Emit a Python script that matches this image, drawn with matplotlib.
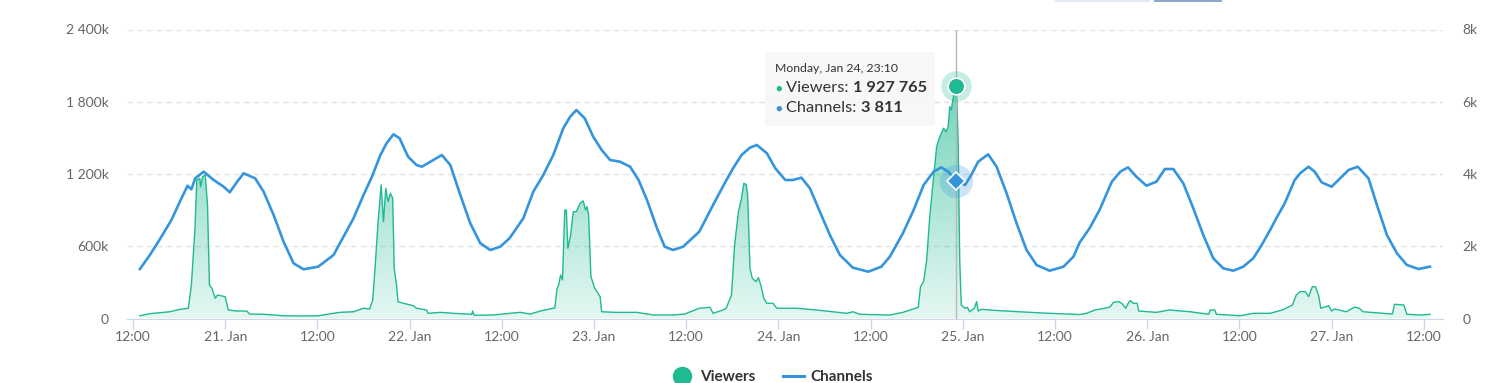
import numpy as np
import pandas as pd
import matplotlib
matplotlib.use('Agg')
import matplotlib.pyplot as plt
import matplotlib.dates as mdates
from matplotlib.lines import Line2D
from matplotlib.patches import Rectangle
from matplotlib.text import Annotation
from matplotlib.ticker import FuncFormatter

plt.rcParams['font.family'] = ['Lato', 'DejaVu Sans']

start = pd.Timestamp('2022-01-20 12:00')

# hours after Jan 20 12:00, channel count (right axis)
ch_hours = [0.9, 2.2, 3.7, 5.0, 6.1, 7.1, 7.6, 8.1, 9.2, 10.5, 11.8, 12.6, 13.5, 14.4, 15.9, 17.0,
            18.3, 19.6, 20.9, 22.2, 24.1, 26.1, 27.4, 28.7, 30.0, 31.1, 32.2, 33.0, 33.9, 34.7, 35.8,
            36.9, 37.6, 38.7, 40.2, 41.3, 42.6, 43.9, 45.2, 46.5, 47.8, 49.0, 50.8, 52.1, 53.4, 54.7,
            56.0, 56.9, 57.7, 58.8, 59.9, 61.0, 62.1, 63.4, 64.7, 65.8, 66.9, 68.2, 69.2, 70.3, 71.6,
            73.7, 75.5, 77.0, 78.1, 79.2, 80.3, 81.2, 82.5, 83.6, 84.9, 85.9, 87.0, 88.1, 89.4, 90.7,
            92.0, 93.7, 95.7, 97.4, 98.5, 100.2, 101.6, 102.9, 104.2, 105.2, 106.1, 107.17, 108.3,
            109.1, 110.0, 111.3, 112.4, 113.7, 115.0, 116.3, 117.6, 119.3, 121.1, 122.4, 123.2, 124.5,
            125.8, 127.4, 128.5, 129.5, 130.6, 131.9, 133.2, 134.3, 135.4, 136.7, 138.0, 139.3, 140.6,
            141.9, 143.2, 144.5, 145.8, 146.9, 148.0, 148.8, 149.9, 151.2, 151.9, 153.0, 153.8, 154.7,
            156.0, 157.1, 158.2, 159.4, 160.8, 161.9, 163.2, 164.5, 165.8, 167.3, 168.8]
ch_values = [1370, 1758, 2264, 2726, 3233, 3676, 3576, 3880, 4064, 3834, 3648, 3493, 3770, 4019, 3880, 3510,
             2865, 2126, 1528, 1362, 1434, 1758, 2264, 2773, 3418, 3925, 4525, 4849, 5098, 4988, 4479,
             4249, 4202, 4340, 4525, 4249, 3418, 2635, 2082, 1896, 1988, 2220, 2773, 3510, 3972, 4525,
             5265, 5586, 5771, 5541, 5032, 4664, 4387, 4340, 4202, 3834, 3280, 2497, 1988, 1896, 1988,
             2403, 3142, 3742, 4157, 4525, 4729, 4803, 4573, 4157, 3834, 3834, 3898, 3604, 2957, 2311,
             1758, 1406, 1296, 1434, 1711, 2358, 3003, 3695, 4064, 4185, 4064, 3811, 3695,
             3972, 4340, 4545, 4202, 3466, 2635, 1896, 1481, 1323, 1434, 1711, 2100, 2497,
             3003, 3787, 4064, 4185, 3925, 3676, 3787, 4138, 4138, 3742, 3050, 2311, 1666,
             1389, 1323, 1434, 1666, 2034, 2450, 2773, 3189, 3834, 4019, 4202, 4064, 3770,
             3648, 3880, 4110, 4202, 3880, 3142, 2311, 1805, 1481, 1370, 1434]

# hours after Jan 20 12:00, viewers (left axis)
vw_hours = [0.9, 2.2, 4.8, 6.1, 7.2, 7.6, 8.07, 8.3, 8.7, 8.8, 9.07, 9.4, 9.7, 9.95, 10.27, 10.7, 11.0,
            12.0, 12.4, 13.5, 14.8, 15.2, 17.0, 19.6, 22.2, 24.1, 26.9, 28.7, 30.0, 30.8, 31.2, 31.5,
            31.9, 32.3, 32.6, 32.9, 33.2, 33.5, 33.8, 34.0, 34.3, 34.5, 35.2, 36.5, 36.9, 38.2, 38.4,
            40.0, 41.7, 44.1, 44.2, 44.4, 46.9, 49.0, 50.4, 51.7, 53.0, 54.7, 54.9, 55.2, 55.4, 55.65,
            55.9, 56.2, 56.4, 56.6, 56.96, 57.3, 57.7, 58.2, 58.6, 58.9, 59.1, 59.3, 59.6, 60.1, 60.8,
            61.0, 62.9, 65.6, 67.7, 70.3, 71.8, 73.7, 75.1, 75.5, 76.8, 77.2, 77.9, 78.3, 78.8, 79.2,
            79.5, 79.8, 80.0, 80.3, 80.6, 81.1, 81.4, 81.7, 82.1, 82.5, 83.3, 83.8, 86.4, 88.9, 92.9,
            93.7, 94.6, 98.5, 100.2, 102.2, 102.5, 102.9, 103.3, 103.7, 104.2, 104.6, 105.0, 105.5,
            105.8, 106.1, 106.3, 106.5, 106.7, 107.0, 107.17, 107.4, 107.6, 107.8, 108.3, 108.6, 108.9,
            109.5, 109.8, 110.0, 110.4, 112.8, 115.9, 119.3, 123.2, 124.1, 125.2, 126.5, 127.2, 127.6,
            128.3, 128.7, 129.2, 129.6, 129.8, 130.2, 130.7, 130.9, 133.2, 134.9, 137.6, 140.0, 140.2,
            140.8, 141.0, 144.1, 145.8, 148.0, 149.6, 150.9, 151.4, 151.9, 152.6, 153.0, 153.5, 153.9,
            154.3, 154.6, 155.6, 156.0, 156.4, 157.9, 159.0, 159.6, 160.1, 163.9, 164.2, 165.4, 165.8,
            167.6, 168.8]
vw_values = [23000, 40000, 56000, 76000, 85000, 278000, 749000, 1150000, 1164000, 1094000, 1178000,
             1192000, 943000, 278000, 251000, 168000, 195000, 181000, 71000, 62000, 62000, 37000, 35000,
             23000, 21000, 23000, 51000, 56000, 85000, 79000, 154000, 417000, 804000, 1110000, 804000,
             1081000, 970000, 1040000, 998000, 417000, 278000, 140000, 126000, 106000, 85000, 71000,
             43000, 51000, 43000, 35000, 62000, 27000, 29000, 43000, 51000, 37000, 62000, 85000, 88000,
             251000, 278000, 361000, 320000, 901000, 901000, 583000, 693000, 887000, 887000, 957000,
             976000, 901000, 929000, 860000, 347000, 251000, 181000, 56000, 51000, 51000, 29000, 29000,
             37000, 85000, 93000, 43000, 71000, 85000, 195000, 610000, 887000, 998000, 1123000, 1113000,
             1026000, 417000, 334000, 306000, 339000, 279000, 168000, 126000, 126000, 85000, 85000,
             71000, 43000, 56000, 35000, 29000, 51000, 93000, 264000, 306000, 486000, 845000, 1178000,
             1427000, 1510000, 1580000, 1551000, 1593000, 1759000, 1731000, 1815000, 1898000, 1927765,
             1455000, 486000, 112000, 85000, 93000, 56000, 85000, 140000, 62000, 76000, 65000, 54000,
             43000, 33000, 43000, 71000, 85000, 98000, 134000, 140000, 126000, 85000, 134000, 148000,
             126000, 126000, 62000, 51000, 71000, 56000, 35000, 71000, 71000, 35000, 23000, 43000,
             43000, 71000, 112000, 195000, 223000, 223000, 181000, 264000, 264000, 195000, 85000,
             106000, 62000, 79000, 56000, 95000, 85000, 56000, 37000, 118000, 112000, 35000, 29000,
             35000]

tip_label = 'Monday, Jan 24, 23:10'
tip_hour = 107 + 10 / 60
tip_viewers = 1927765
tip_channels = 3811

left_ticks = [0, 600000, 1200000, 1800000, 2400000]
left_labels = ['0', '600k', '1 200k', '1 800k', '2 400k']
right_ticks = [0, 2000, 4000, 6000, 8000]
right_labels = ['0', '2k', '4k', '6k', '8k']

green = '#1fb992'
blue = '#3595dc'
label_col = '#666666'
dark = '#333333'

ch_time = start + pd.to_timedelta(ch_hours, unit='h')
vw_time = start + pd.to_timedelta(vw_hours, unit='h')
tip_time = start + pd.to_timedelta(tip_hour, unit='h')

fig = plt.figure(figsize=(14.94, 3.83), dpi=100)
ax = fig.add_axes([127 / 1494, 1 - 318.5 / 383, 1316 / 1494, 289 / 383])
ax2 = ax.twinx()

x0 = start - pd.Timedelta(hours=0.78)
x1 = start + pd.Timedelta(hours=170.5)

# viewers area with vertical gradient
ax.plot(vw_time, vw_values, color=green, lw=1.0, zorder=3)
poly = ax.fill_between(vw_time, vw_values, 0, color='none', lw=0)
grad = np.zeros((256, 1, 4))
grad[:, 0, :3] = matplotlib.colors.to_rgb(green)
grad[:, 0, 3] = np.linspace(0.12, 0.62, 256)
im = ax.imshow(grad, extent=[mdates.date2num(x0), mdates.date2num(x1), 0, max(vw_values)],
               aspect='auto', origin='lower', zorder=2, interpolation='bilinear')
im.set_clip_path(poly.get_paths()[0], transform=ax.transData)

ax.set_xlim(x0, x1)
ax.set_ylim(0, 2400000)
ax.set_yticks(left_ticks)
ax.set_yticklabels(left_labels)
ax.yaxis.grid(True, color='#e3e3e3', ls=(0, (4, 3)), lw=1)
ax.set_axisbelow(True)

# crosshair
ax.axvline(tip_time, color='#b8b8b8', lw=1, zorder=4)

# channels line
ax2.plot(ch_time, ch_values, color=blue, lw=1.9, zorder=3, solid_joinstyle='round')
ax2.set_ylim(0, 8000)
ax2.set_yticks(right_ticks)
ax2.set_yticklabels(right_labels)

# hover markers
ax.plot([tip_time], [tip_viewers], 'o', ms=22, color=green, alpha=0.25, mec='none', zorder=5)
ax.plot([tip_time], [tip_viewers], 'o', ms=12, color=green, mec='white', mew=1.2, zorder=6)
ax2.plot([tip_time], [tip_channels], 'o', ms=24, color=blue, alpha=0.25, mec='none', zorder=5)
ax2.plot([tip_time], [tip_channels], 'D', ms=9, color=blue, mec='white', mew=1.2, zorder=6)

for a in (ax, ax2):
    for s in ('top', 'left', 'right', 'bottom'):
        a.spines[s].set_visible(False)
ax.spines['bottom'].set_visible(True)
ax.spines['bottom'].set_color('#ccd6eb')

ax.tick_params(axis='y', length=0, pad=13, labelsize=10, labelcolor=label_col)
ax2.tick_params(axis='y', length=0, pad=14, labelsize=10, labelcolor=label_col)

ax.xaxis.set_major_locator(mdates.HourLocator(byhour=[0, 12]))


def fmt_x(x, pos):
    d = mdates.num2date(x)
    if d.hour == 12:
        return '12:00'
    return d.strftime('%d. %b').lstrip('0')


ax.xaxis.set_major_formatter(FuncFormatter(fmt_x))
ax.tick_params(axis='x', length=7, width=1, color='#ccd6eb', pad=2, labelsize=10, labelcolor=label_col)

# tooltip
fig.patches.append(Rectangle((765 / 1494, 1 - 126 / 383), 170 / 1494, 74 / 383,
                             transform=fig.transFigure, facecolor='#f7f7f7', edgecolor='none',
                             alpha=0.92, zorder=10))
fig.text(775 / 1494, 1 - 69 / 383, tip_label, fontsize=8.8, color=dark, va='center', zorder=11)
fig.text(779 / 1494, 1 - 88 / 383, '\u25cf', fontsize=8, color=green, va='center', ha='center', zorder=11)
fig.text(779 / 1494, 1 - 108 / 383, '\u25cf', fontsize=8, color=blue, va='center', ha='center', zorder=11)
t1 = fig.text(786 / 1494, 1 - 88 / 383, 'Viewers: ', fontsize=11.8, color=dark, va='center', zorder=11)
t2 = fig.text(786 / 1494, 1 - 108 / 383, 'Channels: ', fontsize=11.8, color=dark, va='center', zorder=11)
for base, val in ((t1, '1 927 765'), (t2, '3 811')):
    ann = Annotation(val, xy=(1, 0.5), xycoords=base, va='center', fontsize=11.8,
                     fontweight='bold', color=dark)
    ann.set_zorder(12)
    fig.add_artist(ann)

# cut-off buttons at top right
fig.patches.append(Rectangle((1055 / 1494, 1 - 2 / 383), 95 / 1494, 2 / 383,
                             transform=fig.transFigure, facecolor='#e2e9f3', edgecolor='none'))
fig.patches.append(Rectangle((1154 / 1494, 1 - 2 / 383), 68 / 1494, 2 / 383,
                             transform=fig.transFigure, facecolor='#8ea5cb', edgecolor='none'))

handles = [Line2D([], [], marker='o', ls='none', ms=13, color=green),
           Line2D([], [], color=blue, lw=2.2)]
fig.legend(handles, ['Viewers', 'Channels'], loc='center', bbox_to_anchor=(0.517, 0.016), ncol=2,
           frameon=False, prop={'size': 11, 'weight': 'bold'}, labelcolor=dark,
           handlelength=1.4, handletextpad=0.45, columnspacing=1.8)

fig.savefig('out.png', dpi=100)
